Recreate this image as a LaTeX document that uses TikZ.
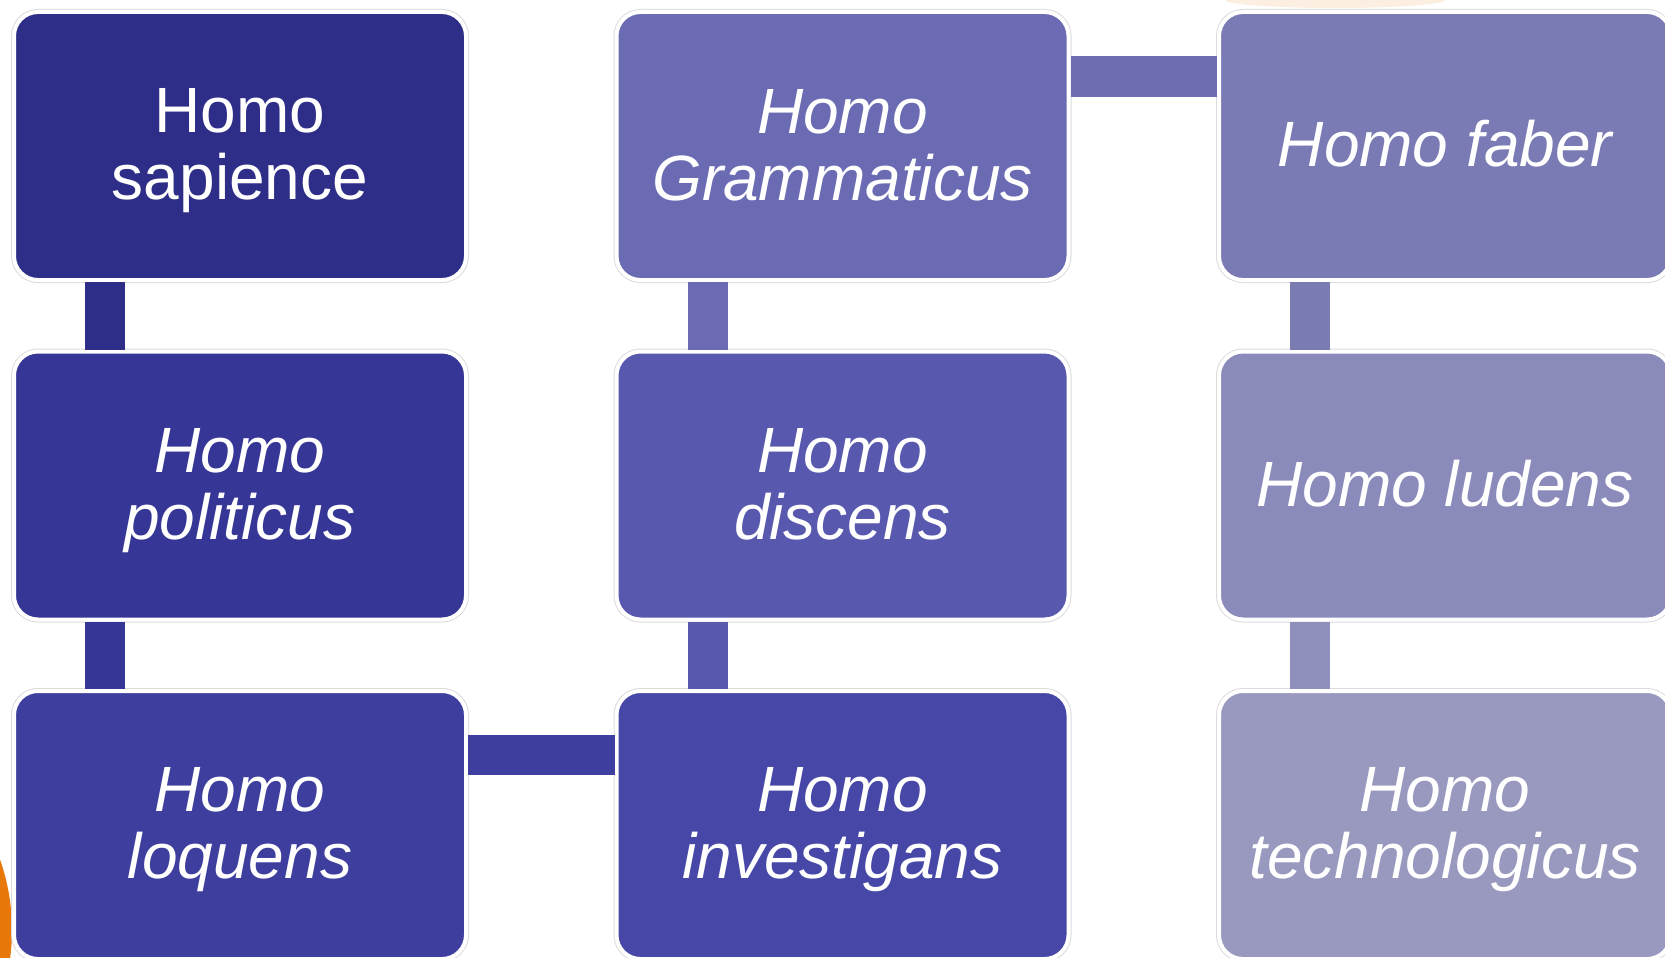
\documentclass[tikz,border=0pt]{standalone}
\usepackage{fontspec}
\setmainfont{Liberation Sans}
\definecolor{cA}{HTML}{2E2E88}
\definecolor{cB}{HTML}{363696}
\definecolor{cC}{HTML}{3E3E9E}
\definecolor{cD}{HTML}{6B6BB3}
\definecolor{cE}{HTML}{5858AE}
\definecolor{cF}{HTML}{4747A7}
\definecolor{cG}{HTML}{7A7AB4}
\definecolor{cH}{HTML}{8A8ABB}
\definecolor{cI}{HTML}{9999BF}
\definecolor{halo}{HTML}{DCDCDC}
\definecolor{orangebg}{HTML}{E8780A}
\newcommand{\hstrut}{\rule[-13pt]{0pt}{67pt}}
\tikzset{
  hbox/.style={rectangle, rounded corners=24pt, minimum width=452pt, minimum height=268pt,
    inner sep=0pt, align=center, text=white, font=\fontsize{64}{67}\selectfont\itshape,
    preaction={draw=halo, line width=6pt}, draw=white, line width=4pt},
  conn/.style={line width=40pt, line cap=butt},
}
\begin{document}
\begin{tikzpicture}[x=1pt,y=1pt]
\useasboundingbox (0,0) rectangle (1665,-958);
\clip (0,0) rectangle (1665,-958);
\fill[white] (0,0) rectangle (1665,-958);
% background orange bits
\fill[orangebg] (-200,-930) circle (212);
\fill[orangebg!12] (1335,0) ellipse (110 and 8);
% boxes
\node[hbox, fill=cA, font=\fontsize{64}{67}\selectfont] (sap) at (240,-146) {\hstrut Homo\\\hstrut sapience};
\node[hbox, fill=cB] (pol) at (240,-485.5) {\hstrut Homo\\\hstrut politicus};
\node[hbox, fill=cC] (loq) at (240,-825) {\hstrut Homo\\\hstrut loquens};
\node[hbox, fill=cD] (gram) at (842.5,-146) {\hstrut Homo\\\hstrut Grammaticus};
\node[hbox, fill=cE] (disc) at (842.5,-485.5) {\hstrut Homo\\\hstrut discens};
\node[hbox, fill=cF] (inv) at (842.5,-825) {\hstrut Homo\\\hstrut investigans};
\node[hbox, fill=cG] (fab) at (1445,-146) {\hstrut Homo faber};
\node[hbox, fill=cH] (lud) at (1445,-485.5) {\hstrut Homo ludens};
\node[hbox, fill=cI] (tech) at (1445,-825) {\hstrut Homo\\\hstrut technologicus};
% connectors
\draw[conn, cA] ([xshift=-135pt]sap.south) -- ([xshift=-135pt]pol.north);
\draw[conn, cB] ([xshift=-135pt]pol.south) -- ([xshift=-135pt]loq.north);
\draw[conn, cC] ([yshift=70pt]loq.east) -- ([yshift=70pt]inv.west);
\draw[conn, cE] ([xshift=-135pt]inv.north) -- ([xshift=-135pt]disc.south);
\draw[conn, cD] ([xshift=-135pt]disc.north) -- ([xshift=-135pt]gram.south);
\draw[conn, cD!85!cG] ([yshift=69.5pt]gram.east) -- ([yshift=69.5pt]fab.west);
\draw[conn, cG!90!cH] ([xshift=-135pt]fab.south) -- ([xshift=-135pt]lud.north);
\draw[conn, cH!70!cI] ([xshift=-135pt]lud.south) -- ([xshift=-135pt]tech.north);
\end{tikzpicture}
\end{document}
